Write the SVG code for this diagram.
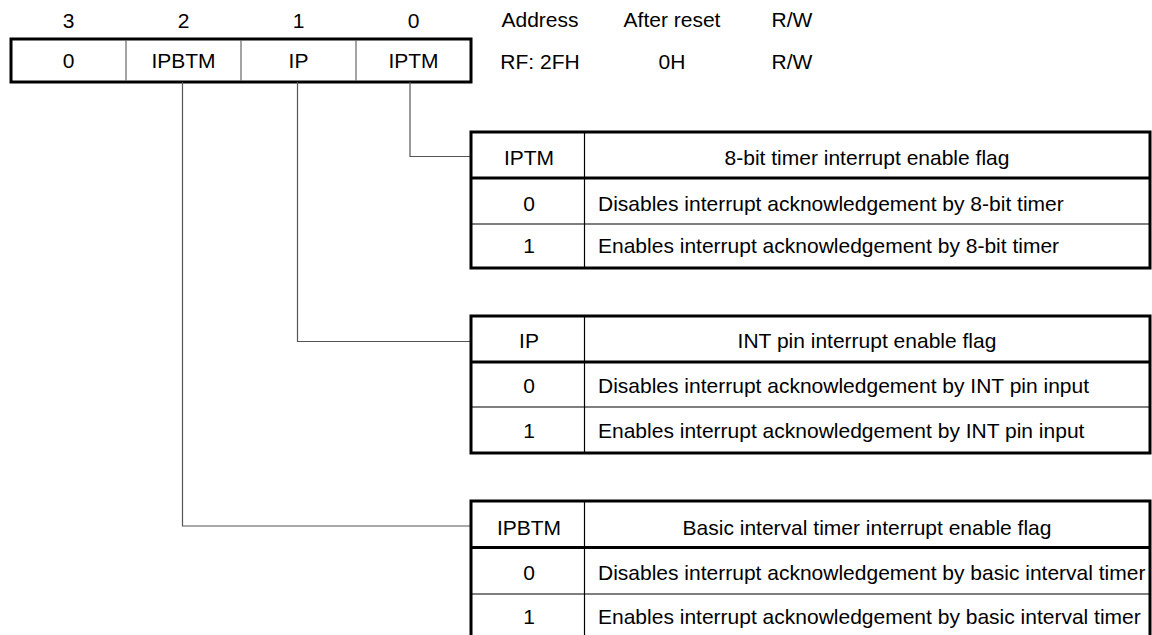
<svg xmlns="http://www.w3.org/2000/svg" width="1152" height="635" viewBox="0 0 1152 635">
<style>
text{font-family:"Liberation Sans",Arial,sans-serif;font-size:21px;fill:#000}
.c{text-anchor:middle}
.thick{fill:none;stroke:#000;stroke-width:3}
.thin{stroke:#000;stroke-width:1.2;fill:none}
.div{stroke:#666;stroke-width:1.2}
.conn{stroke:#555;stroke-width:1.2;fill:none}
</style>
<rect width="1152" height="635" fill="#fff"/>
<g id="register">
<text class="c" x="68.5" y="28">3</text>
<text class="c" x="183.5" y="28">2</text>
<text class="c" x="298.5" y="28">1</text>
<text class="c" x="413.5" y="28">0</text>
<rect class="thick" x="11" y="39" width="460" height="43"/>
<line class="div" x1="126" y1="40" x2="126" y2="81"/>
<line class="div" x1="241" y1="40" x2="241" y2="81"/>
<line class="div" x1="356" y1="40" x2="356" y2="81"/>
<text class="c" x="68.5" y="68">0</text>
<text class="c" x="183.5" y="68">IPBTM</text>
<text class="c" x="298.5" y="68">IP</text>
<text class="c" x="413.5" y="68">IPTM</text>
</g>
<g id="info">
<text class="c" x="540" y="27">Address</text>
<text class="c" x="672" y="27">After reset</text>
<text class="c" x="792" y="27">R/W</text>
<text class="c" x="540" y="69">RF: 2FH</text>
<text class="c" x="672" y="69">0H</text>
<text class="c" x="792" y="69">R/W</text>
</g>
<g id="connectors">
<polyline class="conn" points="410,82 410,156.5 470,156.5"/>
<polyline class="conn" points="297.5,82 297.5,341.5 470,341.5"/>
<polyline class="conn" points="182.5,82 182.5,526 470,526"/>
</g>
<g id="table-iptm">
<rect class="thick" x="471" y="132" width="679" height="136"/>
<line class="thick" x1="471" y1="178" x2="1150" y2="178"/>
<line class="thin" x1="471" y1="224" x2="1150" y2="224"/>
<line class="thin" x1="584.5" y1="132" x2="584.5" y2="268"/>
<text class="c" x="529" y="165">IPTM</text>
<text class="c" x="867" y="165">8-bit timer interrupt enable flag</text>
<text class="c" x="529" y="210.5">0</text>
<text x="598" y="210.5">Disables interrupt acknowledgement by 8-bit timer</text>
<text class="c" x="529" y="252.5">1</text>
<text x="598" y="252.5">Enables interrupt acknowledgement by 8-bit timer</text>
</g>
<g id="table-ip">
<rect class="thick" x="471" y="316" width="679" height="137"/>
<line class="thick" x1="471" y1="362" x2="1150" y2="362"/>
<line class="thin" x1="471" y1="407" x2="1150" y2="407"/>
<line class="thin" x1="584.5" y1="316" x2="584.5" y2="453"/>
<text class="c" x="529" y="348">IP</text>
<text class="c" x="867" y="348">INT pin interrupt enable flag</text>
<text class="c" x="529" y="393">0</text>
<text x="598" y="393">Disables interrupt acknowledgement by INT pin input</text>
<text class="c" x="529" y="438">1</text>
<text x="598" y="438">Enables interrupt acknowledgement by INT pin input</text>
</g>
<g id="table-ipbtm">
<rect class="thick" x="471" y="501" width="679" height="142"/>
<line class="thick" x1="471" y1="547.5" x2="1150" y2="547.5"/>
<line class="thin" x1="471" y1="594" x2="1150" y2="594"/>
<line class="thin" x1="584.5" y1="501" x2="584.5" y2="640"/>
<text class="c" x="529" y="535">IPBTM</text>
<text class="c" x="867" y="535">Basic interval timer interrupt enable flag</text>
<text class="c" x="529" y="580">0</text>
<text x="598" y="580">Disables interrupt acknowledgement by basic interval timer</text>
<text class="c" x="529" y="624">1</text>
<text x="598" y="624">Enables interrupt acknowledgement by basic interval timer</text>
</g>
</svg>
